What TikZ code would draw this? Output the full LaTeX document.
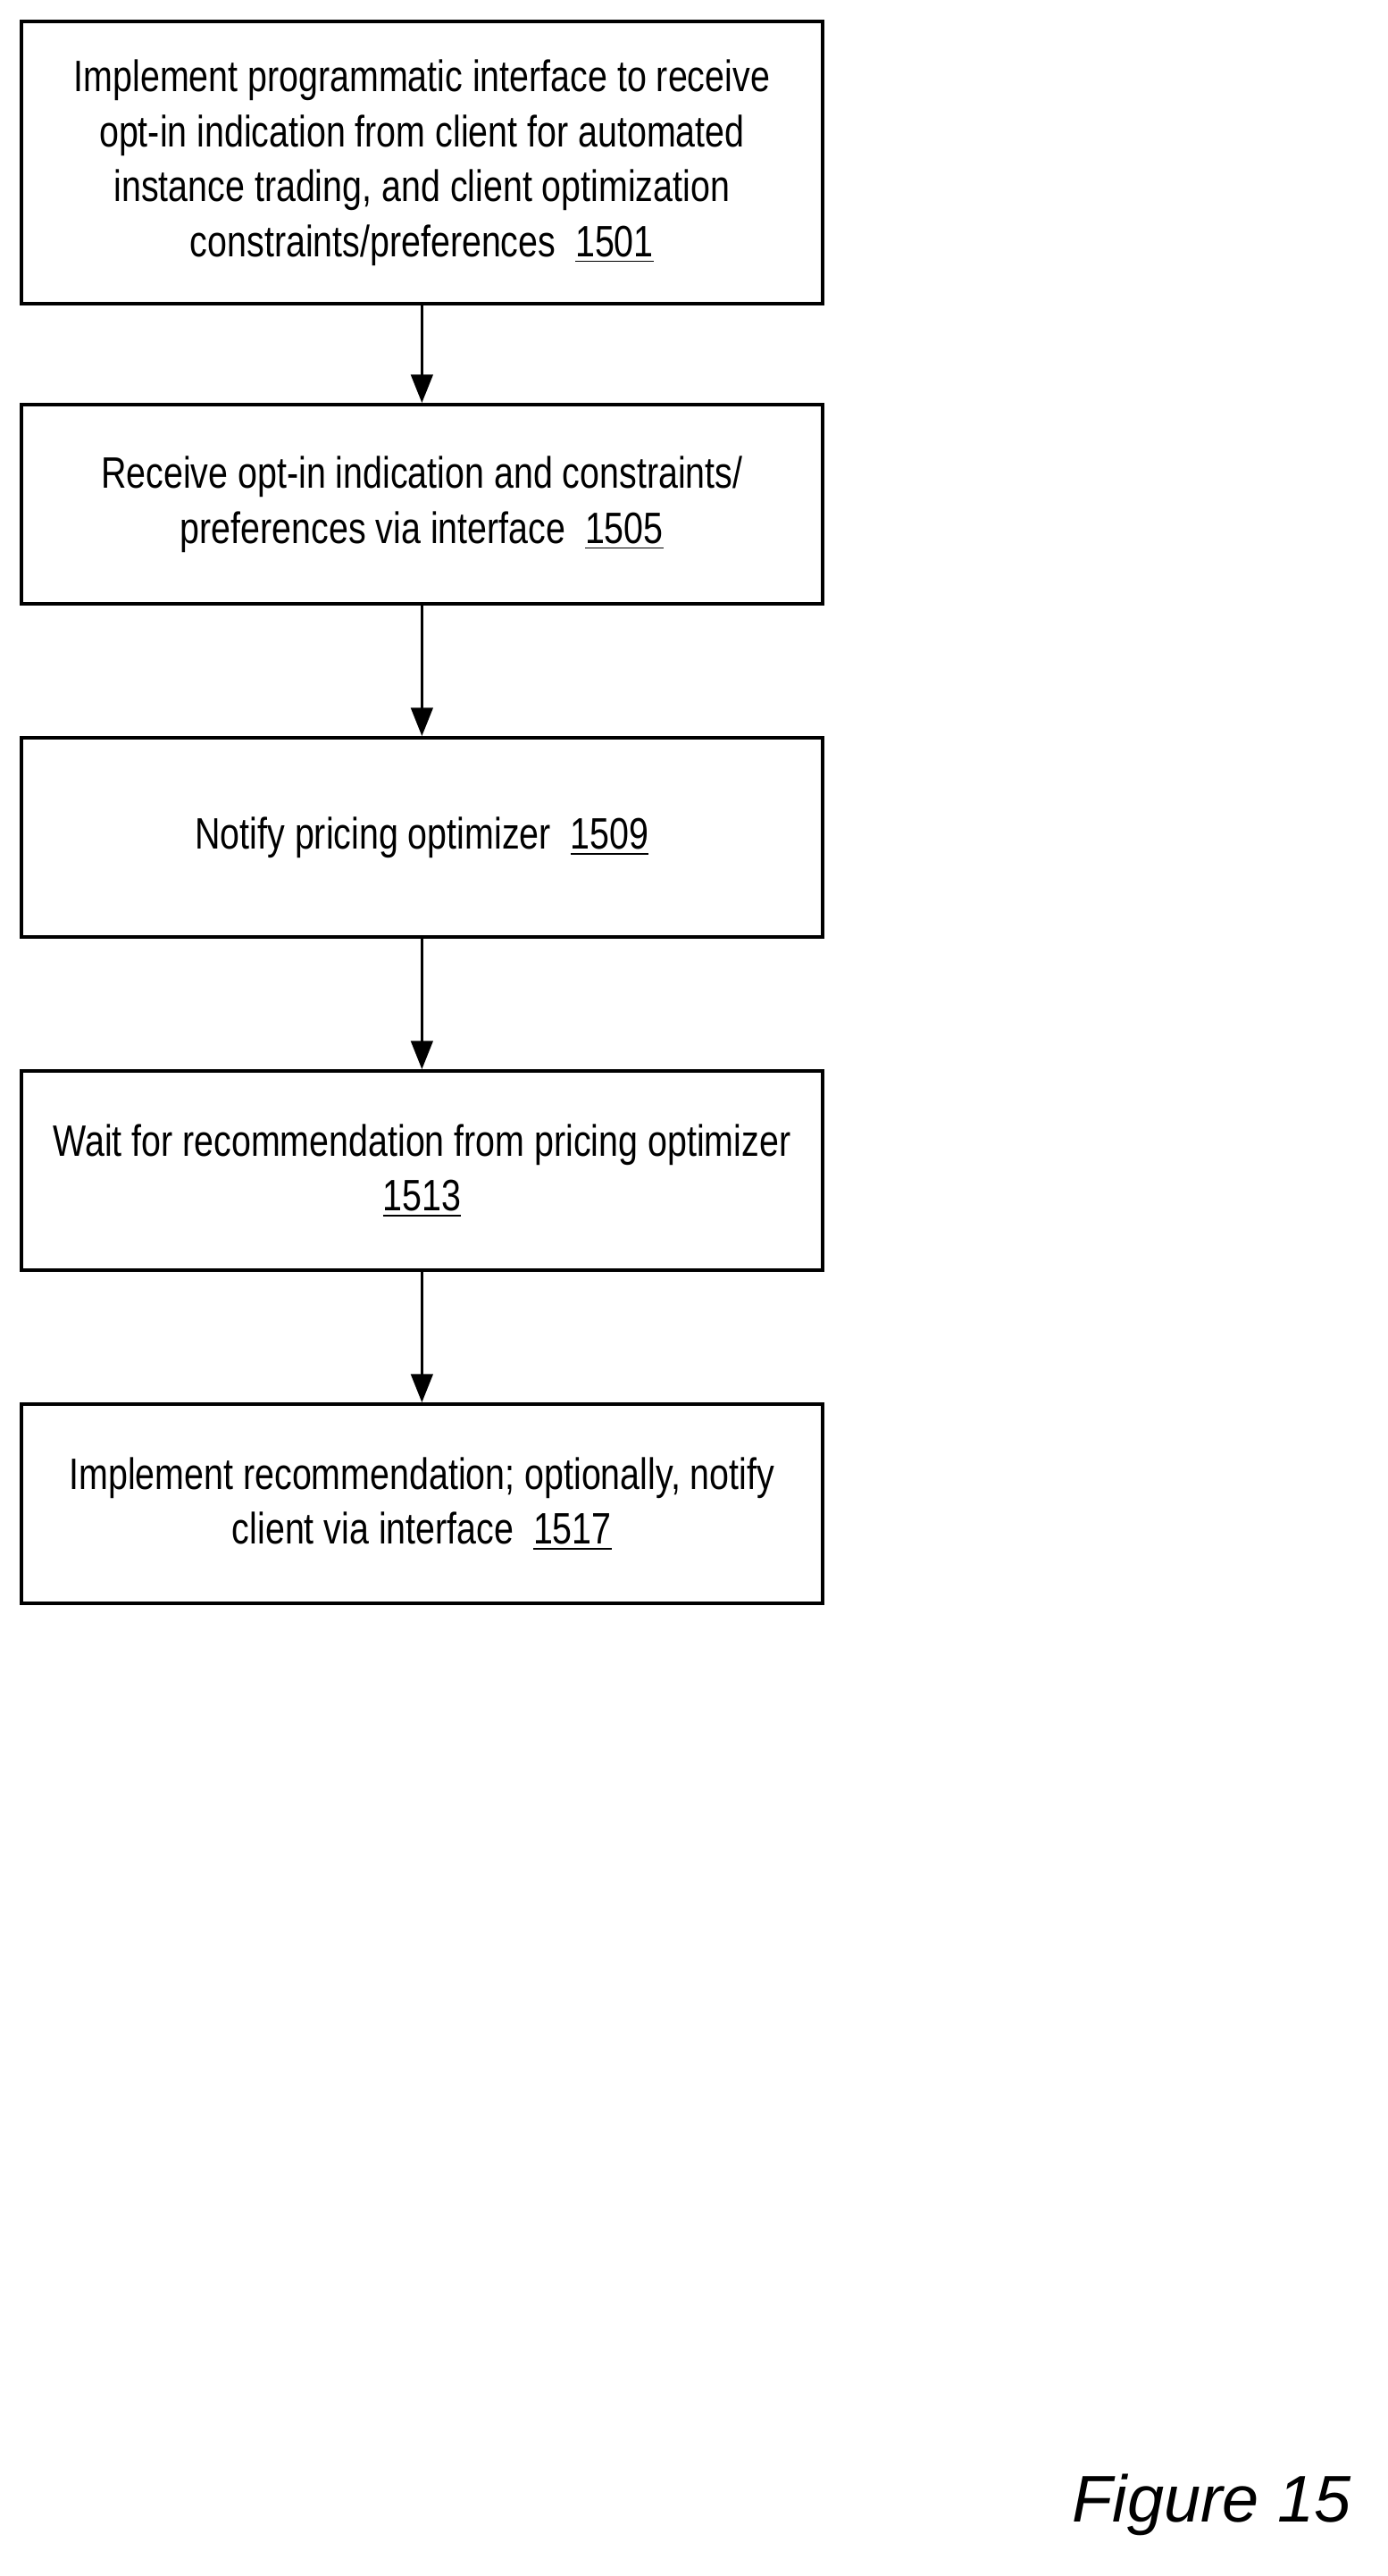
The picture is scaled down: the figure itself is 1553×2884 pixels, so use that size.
\documentclass[tikz,border=0pt]{standalone}
\usepackage{fontspec}
\setmainfont{Liberation Sans}[FakeStretch=0.8]
\newfontfamily\figfont{Liberation Sans}
\usetikzlibrary{arrows.meta, positioning}

\begin{document}
\begin{tikzpicture}[x=0.01cm, y=-0.01cm]
\tikzset{
    stepbox/.style={rectangle, draw=black, line width=1.2pt, minimum width=8.96cm, minimum height=2.23cm, align=center, font=\fontsize{14}{17.5}\selectfont, inner sep=0pt},
    steparrow/.style={-{Triangle[length=9pt, width=7pt]}, line width=0.7pt}
}
\useasboundingbox (0,0) rectangle (1553,2884);
\node[stepbox, minimum height=3.16cm, anchor=north west] (impl) at (22,22) {Implement programmatic interface to receive\\opt-in indication from client for automated\\instance trading, and client optimization\\constraints/preferences\ \ \underline{1501}};
\node[stepbox, anchor=north west] (recv) at (22,451) {Receive opt-in indication and constraints/\\preferences via interface\ \ \underline{1505}};
\node[stepbox, anchor=north west] (notify) at (22,824) {Notify pricing optimizer\ \ \underline{1509}};
\node[stepbox, anchor=north west] (wait) at (22,1197) {Wait for recommendation from pricing optimizer\\\underline{1513}};
\node[stepbox, anchor=north west] (apply) at (22,1570) {Implement recommendation; optionally, notify\\client via interface\ \ \underline{1517}};
\node[font=\figfont\itshape\fontsize{21}{25}\selectfont, anchor=east] (fig) at (1525,2804) {Figure 15};
\draw[steparrow] (impl) -- (recv);
\draw[steparrow] (recv) -- (notify);
\draw[steparrow] (notify) -- (wait);
\draw[steparrow] (wait) -- (apply);
\end{tikzpicture}
\end{document}
